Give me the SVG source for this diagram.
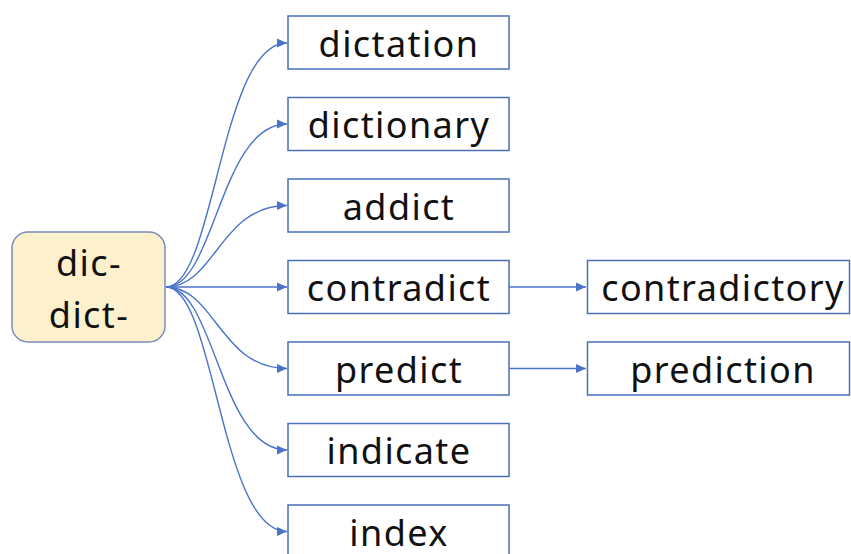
<svg xmlns="http://www.w3.org/2000/svg" width="851" height="554" viewBox="0 0 851 554">
<style>
.box{fill:#ffffff;stroke:#4a70b8;stroke-width:1.5}
.root{fill:#fdf0cc;stroke:#7a8db8;stroke-width:1.5}
.t{font-family:"Noto Sans","Open Sans","Liberation Sans",sans-serif;font-size:36px;letter-spacing:1.4px;fill:#111;text-anchor:middle}
.c{fill:none;stroke:#4a74c9;stroke-width:1.4}
</style>
<defs>
<marker id="ah" viewBox="0 0 10 10" refX="10" refY="5" markerWidth="10" markerHeight="10" markerUnits="userSpaceOnUse" orient="auto">
<path d="M0,0.5 L10,5 L0,9.5 Z" fill="#4a74c9"/>
</marker>
</defs>
<rect width="851" height="554" fill="#ffffff"/>
<g id="connectors">
<path class="c" marker-end="url(#ah)" d="M166,287 C215,287 220,43 287,43"/>
<path class="c" marker-end="url(#ah)" d="M166,287 C215,287 220,124 287,124"/>
<path class="c" marker-end="url(#ah)" d="M166,287 C215,287 220,205.5 287,205.5"/>
<path class="c" marker-end="url(#ah)" d="M166,287 L287,287"/>
<path class="c" marker-end="url(#ah)" d="M166,287 C215,287 220,368.5 287,368.5"/>
<path class="c" marker-end="url(#ah)" d="M166,287 C215,287 220,450 287,450"/>
<path class="c" marker-end="url(#ah)" d="M166,287 C215,287 220,531.5 287,531.5"/>
<path class="c" marker-end="url(#ah)" d="M509,287 L586,287"/>
<path class="c" marker-end="url(#ah)" d="M509,368.5 L586,368.5"/>
</g>
<g id="root">
<rect class="root" x="12" y="232" width="153" height="110" rx="16"/>
<text class="t" x="89" y="276">dic-</text>
<text class="t" x="89" y="328">dict-</text>
</g>
<g id="dictation"><rect class="box" x="288" y="16" width="221" height="53"/><text class="t" x="399" y="56.5">dictation</text></g>
<g id="dictionary"><rect class="box" x="288" y="97.5" width="221" height="53"/><text class="t" x="399" y="138">dictionary</text></g>
<g id="addict"><rect class="box" x="288" y="179" width="221" height="53"/><text class="t" x="399" y="219.5">addict</text></g>
<g id="contradict"><rect class="box" x="288" y="260.5" width="221" height="53"/><text class="t" x="399" y="301">contradict</text></g>
<g id="predict"><rect class="box" x="288" y="342" width="221" height="53"/><text class="t" x="399" y="382.5">predict</text></g>
<g id="indicate"><rect class="box" x="288" y="423.5" width="221" height="53"/><text class="t" x="399" y="464">indicate</text></g>
<g id="index"><rect class="box" x="288" y="505" width="221" height="53"/><text class="t" x="399" y="545.5">index</text></g>
<g id="contradictory"><rect class="box" x="587.5" y="260.5" width="262" height="53"/><text class="t" x="723" y="301">contradictory</text></g>
<g id="prediction"><rect class="box" x="587.5" y="342" width="262" height="53"/><text class="t" x="723" y="382.5">prediction</text></g>
</svg>
